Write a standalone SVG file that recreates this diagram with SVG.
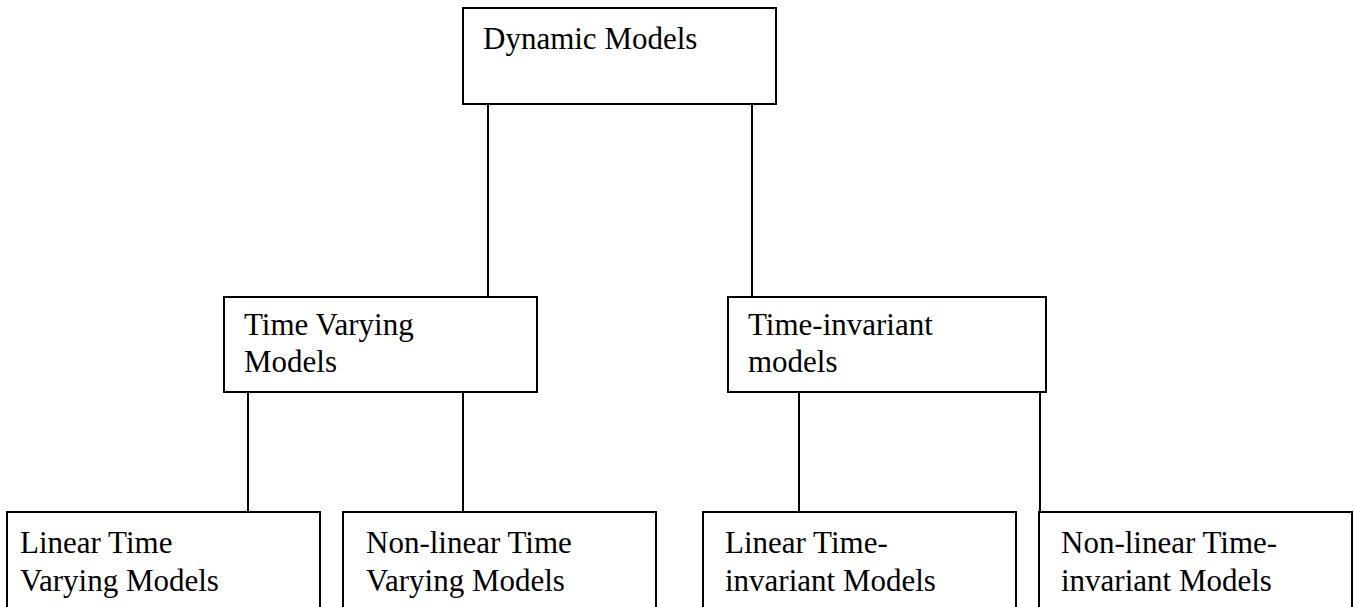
<svg xmlns="http://www.w3.org/2000/svg" width="1354" height="607" viewBox="0 0 1354 607">
<style>
.box{fill:#fff;stroke:#000;stroke-width:2}
.lbl{font-family:"Liberation Serif","Times New Roman",serif;font-size:31px;fill:#000}
.conn line{stroke:#000;stroke-width:2}
</style>
<rect width="1354" height="607" fill="#fff"/>
<g id="connectors" class="conn">
<line x1="488" y1="104" x2="488" y2="297"/>
<line x1="752" y1="104" x2="752" y2="297"/>
<line x1="248" y1="392" x2="248" y2="512"/>
<line x1="463" y1="392" x2="463" y2="512"/>
<line x1="799" y1="392" x2="799" y2="512"/>
<line x1="1040" y1="392" x2="1040" y2="512"/>
</g>
<g id="dynamic-models">
<rect class="box" x="463" y="8" width="313" height="96"/>
<text class="lbl" x="483" y="49">Dynamic Models</text>
</g>
<g id="time-varying">
<rect class="box" x="224" y="297" width="313" height="95"/>
<text class="lbl" x="244" y="335">Time Varying</text>
<text class="lbl" x="244" y="372">Models</text>
</g>
<g id="time-invariant">
<rect class="box" x="728" y="297" width="318" height="95"/>
<text class="lbl" x="748" y="335">Time-invariant</text>
<text class="lbl" x="748" y="372">models</text>
</g>
<g id="linear-tv">
<rect class="box" x="7" y="512" width="313" height="110"/>
<text class="lbl" x="20" y="553">Linear Time</text>
<text class="lbl" x="20" y="591">Varying Models</text>
</g>
<g id="nonlinear-tv">
<rect class="box" x="343" y="512" width="313" height="110"/>
<text class="lbl" x="366" y="553">Non-linear Time</text>
<text class="lbl" x="366" y="591">Varying Models</text>
</g>
<g id="linear-ti">
<rect class="box" x="703" y="512" width="313" height="110"/>
<text class="lbl" x="725" y="553">Linear Time-</text>
<text class="lbl" x="725" y="591">invariant Models</text>
</g>
<g id="nonlinear-ti">
<rect class="box" x="1039" y="512" width="313" height="110"/>
<text class="lbl" x="1061" y="553">Non-linear Time-</text>
<text class="lbl" x="1061" y="591">invariant Models</text>
</g>
</svg>
